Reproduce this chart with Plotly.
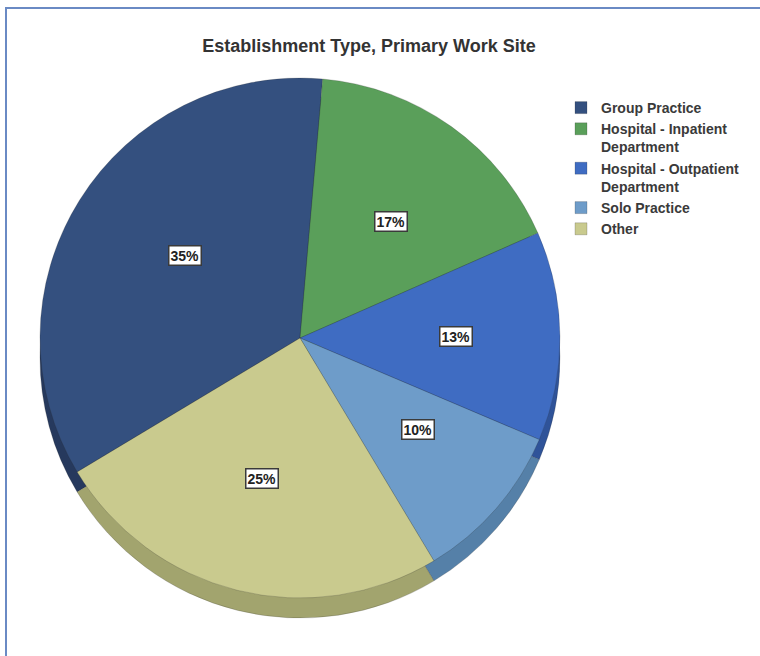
import math
import plotly.graph_objects as go

# Share of respondents by establishment type at the primary work site
categories = [
    "Group Practice",
    "Hospital - Inpatient<br>Department",
    "Hospital - Outpatient<br>Department",
    "Solo Practice",
    "Other",
]
shares = [35, 17, 13, 10, 25]

face_colors = ["#34507f", "#5a9f5a", "#3f6cc2", "#6e9cc9", "#c9ca8e"]
side_colors = ["#26395d", "#477f47", "#2f5399", "#5580a8", "#a2a46e"]

W, H = 760, 656
START_ANGLE = 239          # first slice (Group Practice) starts here, clockwise from 12 o'clock
CX, CY, R = 300, 338, 260  # pie face centre / radius in pixels
DEPTH = 20                 # apparent thickness of the disc


def domain(cx, cy, r):
    return dict(
        x=[(cx - r) / W, (cx + r) / W],
        y=[1 - (cy + r) / H, 1 - (cy - r) / H],
    )


fig = go.Figure()

# Lower disc gives the pie its edge
fig.add_trace(go.Pie(
    labels=categories, values=shares, sort=False, direction="clockwise",
    rotation=START_ANGLE, domain=domain(CX, CY + DEPTH, R),
    marker=dict(colors=side_colors, line=dict(color="rgba(40,40,40,0.35)", width=0.6)),
    textinfo="none", hoverinfo="skip", showlegend=False,
))

# Top face of the pie
fig.add_trace(go.Pie(
    labels=categories, values=shares, sort=False, direction="clockwise",
    rotation=START_ANGLE, domain=domain(CX, CY, R),
    marker=dict(colors=face_colors, line=dict(color="rgba(40,40,40,0.35)", width=0.6)),
    textinfo="none", hovertemplate="%{label}: %{percent}<extra></extra>",
))

# Boxed percentage labels at the middle of each slice
total = sum(shares)
angle = START_ANGLE
for v in shares:
    span = 360 * v / total
    mid = math.radians(angle + span / 2)
    angle += span
    px = CX + 0.6 * R * math.sin(mid)
    py = CY - 0.6 * R * math.cos(mid)
    fig.add_annotation(
        x=px / W, y=1 - py / H, xref="paper", yref="paper",
        text=f"{round(100 * v / total)}%", showarrow=False,
        font=dict(family="Liberation Sans, Arial", size=14, color="#222222", weight="bold"),
        bgcolor="white", bordercolor="#3a3a3a", borderwidth=1.5, borderpad=1,
    )

# Chart frame
fig.add_shape(
    type="rect", xref="paper", yref="paper",
    x0=6 / W, x1=1.05, y0=-0.05, y1=1 - 8 / H,
    line=dict(color="#6a8ac4", width=2), fillcolor="rgba(0,0,0,0)", layer="below",
)

fig.update_layout(
    width=W, height=H,
    margin=dict(l=0, r=0, t=0, b=0),
    paper_bgcolor="white", plot_bgcolor="white",
    title=dict(
        text="Establishment Type, Primary Work Site",
        x=369 / W, xanchor="center", y=1 - 46 / H, yanchor="middle",
        font=dict(family="Liberation Sans, Arial", size=18, color="#333333", weight="bold"),
    ),
    legend=dict(
        x=561 / W, xanchor="left", y=1 - 92 / H, yanchor="top",
        font=dict(family="Liberation Sans, Arial", size=14, color="#3a3a3a", weight="bold"),
        valign="top", itemwidth=30, tracegroupgap=0, bgcolor="rgba(0,0,0,0)",
    ),
)

fig.write_html("out.html")
